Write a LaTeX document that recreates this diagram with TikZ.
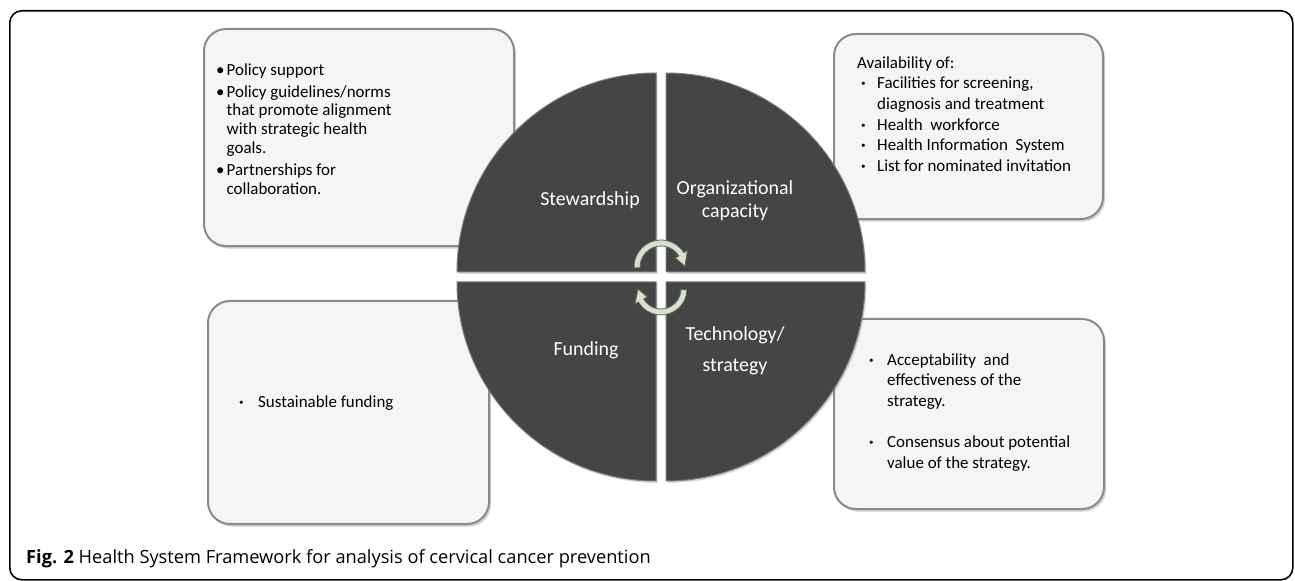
\documentclass[tikz,border=0pt]{standalone}
\usepackage{fontspec}
\setmainfont{Carlito}
\newfontfamily\capfont{Open Sans}
\usetikzlibrary{shadows,calc}
\definecolor{boxfill}{HTML}{F5F5F5}
\definecolor{boxline}{HTML}{8A8A8A}
\definecolor{quad}{HTML}{454545}
\definecolor{quadrim}{HTML}{7A7A7A}
\definecolor{arrfill}{HTML}{D8E0CE}
\definecolor{arrline}{HTML}{5E6857}
\tikzset{
  infobox/.style={fill=boxfill, draw=boxline, line width=2bp, rounded corners=22bp,
    drop shadow={shadow xshift=2bp, shadow yshift=-2.5bp, opacity=0.35}},
  quadrant/.style={fill=quad, draw=quadrim, line width=1bp,
    drop shadow={shadow xshift=1.5bp, shadow yshift=-2bp, opacity=0.3}},
  qlabel/.style={text=white, font=\fontsize{20}{23}\selectfont, align=center, inner sep=0pt},
  boxtext/.style={font=\fontsize{17}{20.7}\selectfont, anchor=north west, inner sep=0pt},
  cycarrow/.style={fill=arrfill, draw=arrline, line width=0.8bp},
}
\newcommand{\sdot}{\textbf{\textperiodcentered}}
\begin{document}
\begin{tikzpicture}[x=1bp,y=-1bp]
\useasboundingbox (0,0) rectangle (1295,581);
\fill[white] (0,0) rectangle (1295,581);
% outer frame
\node[draw=black, line width=1.6bp, rounded corners=12bp, minimum width=1283bp, minimum height=569bp, anchor=north west, inner sep=0pt] (frame) at (9,10) {};
% boxes
\node[infobox, anchor=north west, minimum width=310bp, minimum height=217bp] (b1) at (203,28) {};
\node[infobox, anchor=north west, minimum width=269bp, minimum height=185bp] (b2) at (833,33) {};
\node[infobox, anchor=north west, minimum width=281bp, minimum height=223bp] (b3) at (207,300) {};
\node[infobox, anchor=north west, minimum width=270bp, minimum height=190bp] (b4) at (833,318) {};
% box texts
\node[boxtext, font=\fontsize{17}{18.7}\selectfont] (t1) at (216,62) {%
\begin{tabular}{@{}p{10.5bp}@{}l@{}}
\textbullet & Policy support\\[3.5bp]
\textbullet & Policy guidelines/norms\\
 & that promote alignment\\
 & with strategic health\\
 & goals.\\[3.5bp]
\textbullet & Partnerships for\\
 & collaboration.
\end{tabular}};
\node[boxtext] (t2) at (857,53.5) {%
\begin{tabular}{@{}p{20bp}@{}l@{}}
\multicolumn{2}{@{}l@{}}{Availability of:}\\
\hspace{4bp}\sdot & Facilities for screening,\\
 & diagnosis and treatment\\
\hspace{4bp}\sdot & Health\ \ workforce\\
\hspace{4bp}\sdot & Health Information\ \ System\\
\hspace{4bp}\sdot & List for nominated invitation
\end{tabular}};
\node[boxtext] (t3) at (237,392.5) {%
\begin{tabular}{@{}p{21bp}@{}l@{}}
\hspace{2bp}\sdot & Sustainable funding
\end{tabular}};
\node[boxtext] (t4) at (867,350.5) {%
\begin{tabular}{@{}p{20bp}@{}l@{}}
\hspace{2bp}\sdot & Acceptability\ \ and\\
 & effectiveness of the\\
 & strategy.\\
 & \\
\hspace{2bp}\sdot & Consensus about potential\\
 & value of the strategy.
\end{tabular}};
% circle quadrants
\filldraw[quadrant] (656,272) -- (457,272) arc[start angle=180,end angle=270,radius=199] -- cycle;
\filldraw[quadrant] (666,272) -- (666,73) arc[start angle=270,end angle=360,radius=199] -- cycle;
\filldraw[quadrant] (666,282) -- (865,282) arc[start angle=0,end angle=90,radius=199] -- cycle;
\filldraw[quadrant] (656,282) -- (656,481) arc[start angle=90,end angle=180,radius=199] -- cycle;
% quadrant labels
\node[qlabel] (q1) at (590,200) {Stewardship};
\node[qlabel] (q2) at (735,201) {Organizational\\capacity};
\node[qlabel] (q3) at (586,350) {Funding};
\node[qlabel] (q4) at (735,351) {Technology/\\[8bp]strategy};
% cycle arrows
\begin{scope}[shift={(661,267)}]
\filldraw[cycarrow] (178:27) arc[start angle=178,end angle=328,radius=27] -- (328:31) -- (358:24) -- (328:17) -- (328:21) arc[start angle=328,end angle=178,radius=21] -- cycle;
\end{scope}
\begin{scope}[shift={(661,289)}]
\filldraw[cycarrow] (2:26) arc[start angle=2,end angle=150,radius=26] -- (150:30) -- (180:23) -- (150:16) -- (150:20) arc[start angle=150,end angle=2,radius=20] -- cycle;
\end{scope}
% caption
\node[anchor=base west, inner sep=0pt, font=\capfont\fontsize{18.3}{21}\selectfont] (cap) at (26,563) {\textbf{Fig. 2} Health System Framework for analysis of cervical cancer prevention};
\end{tikzpicture}
\end{document}
